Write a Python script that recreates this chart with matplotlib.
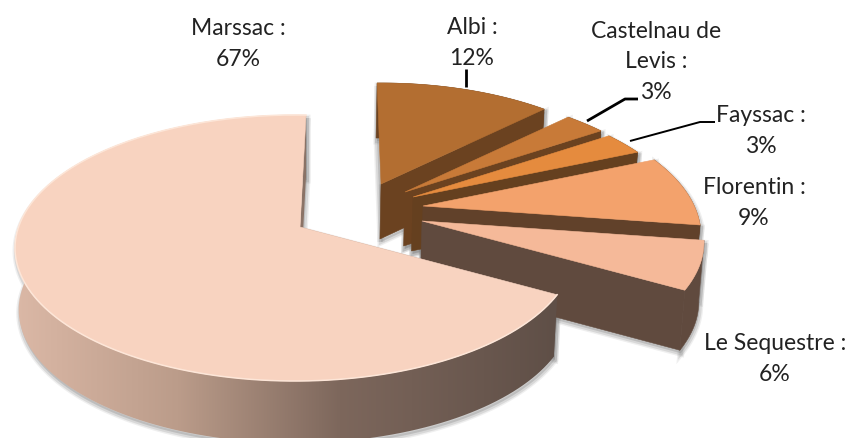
import numpy as np
import matplotlib
matplotlib.use("Agg")
import matplotlib.pyplot as plt
from matplotlib.colors import LinearSegmentedColormap
from matplotlib.patches import Polygon

# data, clockwise from the top
names = ["Albi", "Castelnau de\nLevis", "Fayssac", "Florentin", "Le Sequestre", "Marssac"]
values = [12, 3, 3, 9, 6, 67]
top_colors = ["#b36e31", "#c87a38", "#e58b3e", "#f3a26c", "#f5b999", "#f8d3c0"]
wall_colors = ["#6b4220", "#6b4220", "#65401f", "#61412a", "#604a3e", "#7d675c"]

# look of the exploded 3d pie, in pixels
apex_x = [381, 405, 413, 423, 422, 300]
apex_y = [185, 193, 198, 207, 222, 228]
rim_rx = [281, 281, 281, 278, 282, 280]
rim_ry = [141, 141, 141, 137, 133, 133]
rim_dx = [0, 0, 0, 0, 0, -5]
rim_dy = [40, 40, 40, 30, 21, 21]
depths = [55, 54, 54, 50, 60, 62]
first_edge_nudge = [-2.4, 0, 0, 0, 0, 0]
label_x = [472, 656, 761, 754, 775, 238]
label_y = [43, 62, 131, 203, 359, 44]
start_angle = 1.4

plt.rcParams["font.family"] = ["Lato", "DejaVu Sans"]
fig = plt.figure(figsize=(8.51, 4.39), dpi=100)
ax = fig.add_axes([0, 0, 1, 1])


def rim_point(i, angle):
    # ray leaving the apex, cut with the ellipse of that slice
    a = np.radians(angle)
    dx, dy = 285 * np.sin(a), -129 * np.cos(a)
    rx, ry, cx, cy = rim_rx[i], rim_ry[i], rim_dx[i], rim_dy[i]
    qa = (dx / rx) ** 2 + (dy / ry) ** 2
    qb = -2 * (dx * cx / rx ** 2 + dy * cy / ry ** 2)
    qc = (cx / rx) ** 2 + (cy / ry) ** 2 - 1
    s = (-qb + np.sqrt(qb ** 2 - 4 * qa * qc)) / (2 * qa)
    return apex_x[i] + s * dx, apex_y[i] + s * dy


def drop(pts, depth):
    # verticals lean a little towards the middle
    pts = np.asarray(pts, dtype=float)
    return np.column_stack([pts[:, 0] - 0.013 * (pts[:, 0] - 300), pts[:, 1] + depth])


edges = start_angle + 3.6 * np.concatenate([[0], np.cumsum(values)])
mars_gradient = LinearSegmentedColormap.from_list(
    "side", [(0, "#dbb8a6"), (0.3, "#bb9c8a"), (0.6, "#7d675c"), (1, "#5f4f47")])

# collect the outlines first so the shadows stay below every slice
slices = []
for i in range(len(values)):
    arc = np.array([rim_point(i, t) for t in np.linspace(edges[i] + first_edge_nudge[i], edges[i + 1], 150)])
    apex = np.array([[apex_x[i], apex_y[i]]])
    start_wall = np.vstack([apex, arc[:1], drop(arc[:1], depths[i]), drop(apex, depths[i])])
    end_wall = np.vstack([apex, arc[-1:], drop(arc[-1:], depths[i]), drop(apex, depths[i])])
    rim_wall = np.vstack([arc, drop(arc, depths[i])[::-1]])
    slices.append((arc, apex, start_wall, end_wall, rim_wall))

for arc, apex, start_wall, end_wall, rim_wall in slices:
    for wall in (start_wall, end_wall, rim_wall):
        for lw, alpha in ((5, 0.12), (3, 0.2)):
            ax.add_patch(Polygon(wall + [1, 3], closed=True, fc="#808080", ec="#808080",
                                 lw=lw, alpha=alpha, zorder=1))

for i, (arc, apex, start_wall, end_wall, rim_wall) in enumerate(slices):
    z = 2 + i
    if i == len(values) - 1:
        for wall in (start_wall, end_wall, rim_wall):
            patch = Polygon(wall, closed=True, fc="none", ec="none", zorder=z)
            ax.add_patch(patch)
            img = ax.imshow(np.linspace(0, 1, 256).reshape(1, -1), cmap=mars_gradient,
                            extent=[15, 557, 445, 110], aspect="auto", zorder=z,
                            interpolation="bilinear")
            img.set_clip_path(patch)
    else:
        # the first edge of these slices faces away from us
        for wall in (end_wall, rim_wall):
            ax.add_patch(Polygon(wall, closed=True, fc=wall_colors[i], ec=wall_colors[i],
                                 lw=0.4, zorder=z))
    top = np.vstack([apex, arc])
    ax.add_patch(Polygon(top, closed=True, fc=top_colors[i], ec=top_colors[i], lw=0.4, zorder=z + 0.1))

# pale edge along the front of the big slice
mars_arc = slices[-1][0]
ax.plot(mars_arc[:, 0], mars_arc[:, 1], color="#fde6d8", lw=1.1, zorder=9)

# leader lines
leader_x = [[466, 466], [587, 625, 638], [630, 700, 715]]
leader_y = [[70, 88], [122, 100, 100], [142, 123, 123]]
leader_w = [2, 2, 1.4]
for lx, ly, w in zip(leader_x, leader_y, leader_w):
    ax.plot(lx, ly, color="black", lw=w, zorder=10, solid_capstyle="butt")

for name, value, x, y in zip(names, values, label_x, label_y):
    ax.text(x, y, f"{name} :\n{value}%", ha="center", va="center", fontsize=16.5,
            color="#222222", linespacing=1.56, zorder=11)

ax.set_xlim(0, 851)
ax.set_ylim(439, 0)
ax.axis("off")
fig.savefig("out.png", dpi=100, facecolor="white")
